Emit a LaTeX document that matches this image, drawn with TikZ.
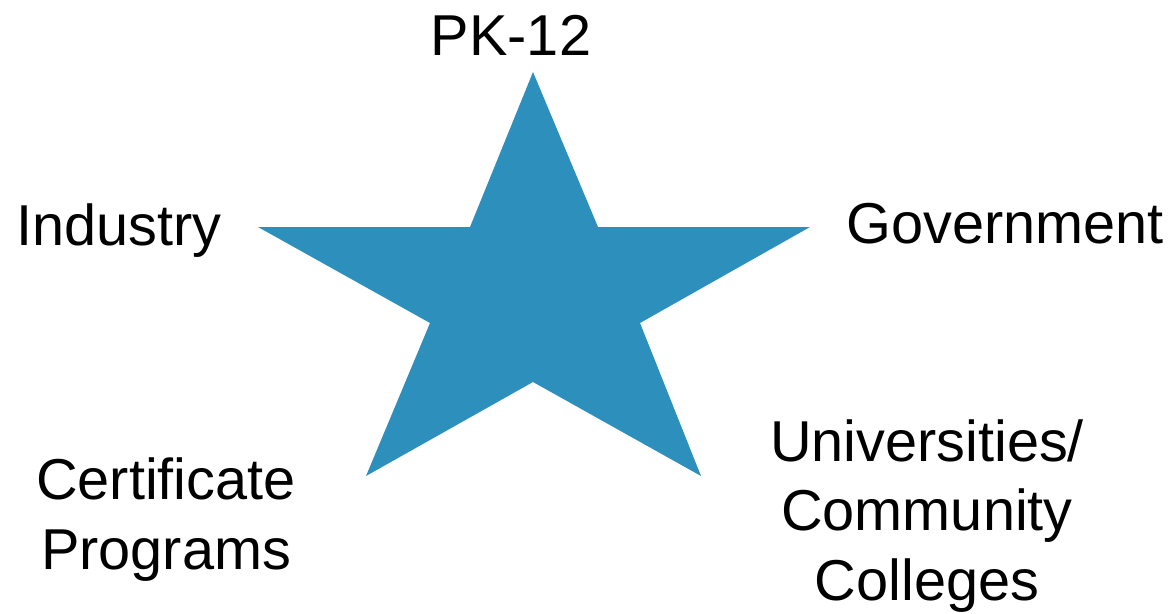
\documentclass[tikz,border=0pt]{standalone}
\usepackage{fontspec}
\setmainfont{Liberation Sans}
\definecolor{starblue}{HTML}{2D8FBC}
\tikzset{
  lbl/.style  = {font=\fontsize{41}{49.3}\selectfont, inner sep=0pt, align=center, anchor=base},
  star/.style = {fill=starblue, draw=none},
}

\begin{document}
\begin{tikzpicture}[x=0.025cm, y=-0.025cm]
  \useasboundingbox (0,0) rectangle (1174,613);
  % star points and notches
  \coordinate (top) at (533,72);
  \coordinate (rgt) at (810,227);
  \coordinate (lft) at (258,227);
  \coordinate (bl)  at (366,476);
  \coordinate (br)  at (701,476);
  \fill[star] (top) -- (598,227) -- (rgt) -- (640,323) -- (br) -- (533,382)
    -- (bl) -- (430,323) -- (lft) -- (470,227) -- cycle;

  % labels (base = last line)
  \node[lbl] (pk)   at (511,55)  {PK-12};
  \node[lbl] (ind)  at (119,245) {Industry};
  \node[lbl] (gov)  at (1005,243) {Government};
  \node[lbl] (cert) at (166,569) {Certificate\\Programs};
  \node[lbl] (univ) at (927,600) {Universities/\\Community\\Colleges};
\end{tikzpicture}
\end{document}
